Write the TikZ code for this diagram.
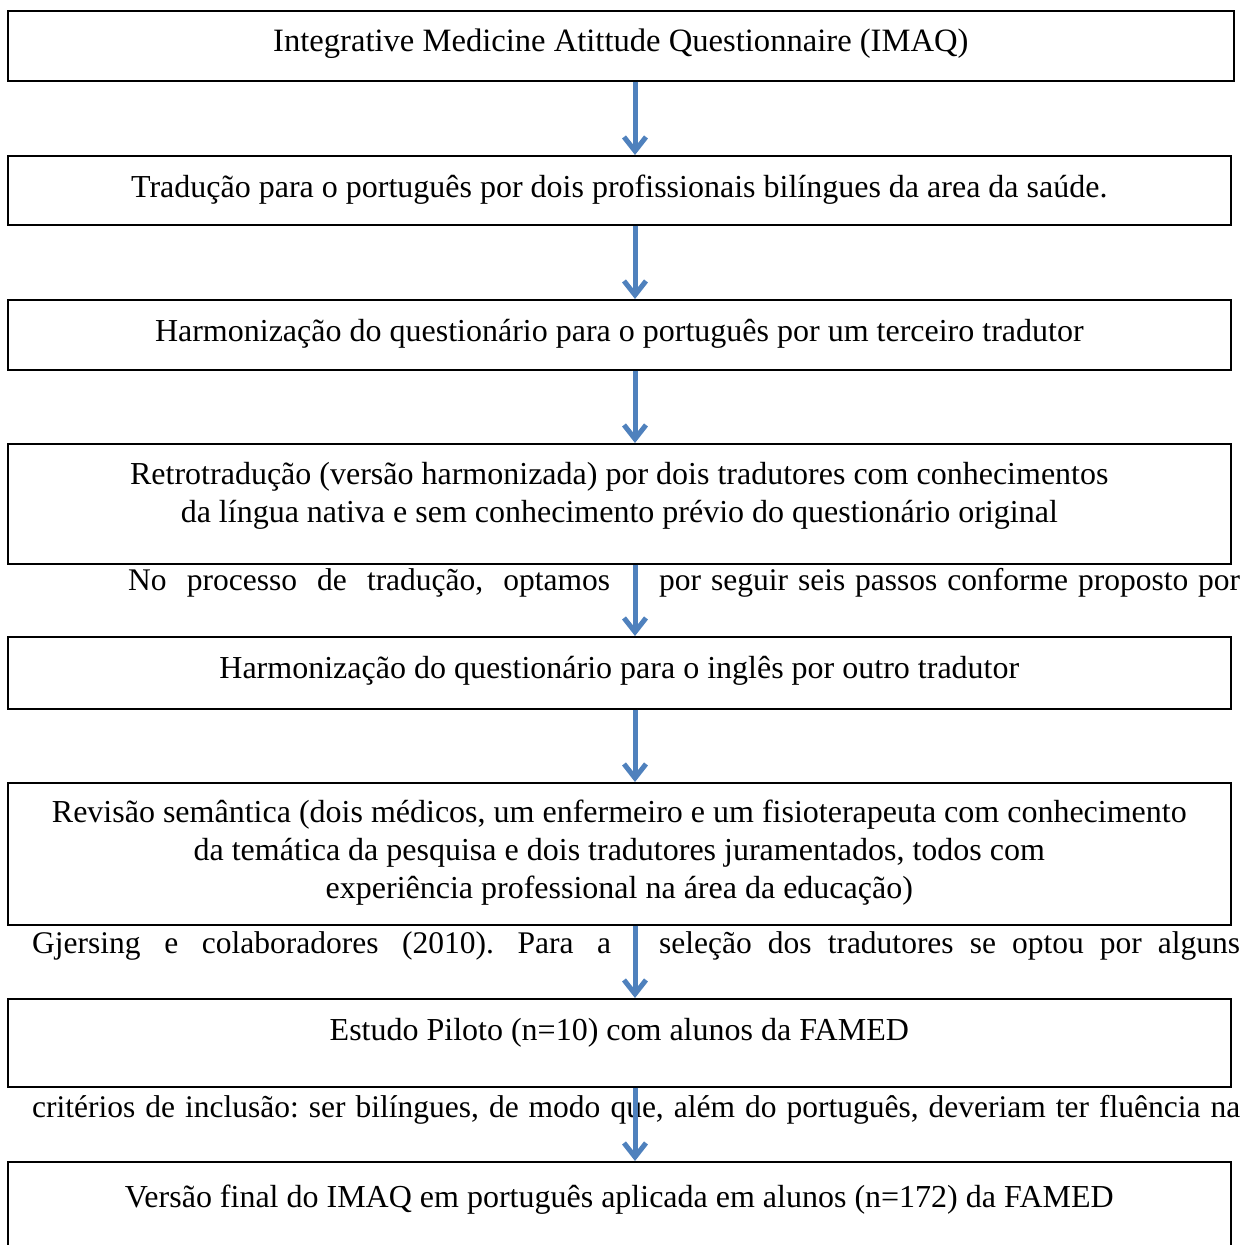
\documentclass[tikz,border=0pt]{standalone}
\usepackage{fontspec}
\setmainfont{Liberation Serif}
\usetikzlibrary{arrows.meta, positioning}
\definecolor{flowBlue}{HTML}{4F81BD}
\tikzset{
  stage/.style={draw=black, line width=1.6pt, anchor=north west, inner sep=0pt, minimum width=1223pt},
  stagetext/.style={font=\fontsize{32}{38}\selectfont, align=center, inner sep=0pt},
  prose/.style={font=\fontsize{31.5}{38}\selectfont\frenchspacing, inner sep=0pt, anchor=west},
  flow/.style={draw=flowBlue, line width=5pt, -{Straight Barb[length=14pt, width=22pt]}},
}
\begin{document}
\begin{tikzpicture}[x=1pt, y=-1pt]
  \useasboundingbox (0,0) rectangle (1256,1245);
  \clip (0,0) rectangle (1256,1245);
  % frames of the steps
  \node[stage, minimum width=1226pt, minimum height=70pt] (imaq) at (7,10) {};
  \node[stage, minimum height=69pt] (trad) at (7,155) {};
  \node[stage, minimum height=70pt] (harmpt) at (7,299) {};
  \node[stage, minimum height=120pt] (retro) at (7,443) {};
  \node[stage, minimum height=72pt] (harmen) at (7,636) {};
  \node[stage, minimum height=142pt] (revis) at (7,782) {};
  \node[stage, minimum height=88pt] (piloto) at (7,998) {};
  \node[stage, minimum height=90pt] (final) at (7,1161) {};
  % texts of the steps
  \node[stagetext, font=\fontsize{32.6}{38}\selectfont, below=19pt of imaq.north] (imaqtxt) {Integrative Medicine Atittude Questionnaire (IMAQ)};
  \node[stagetext, below=20pt of trad.north] (tradtxt) {Tradução para o português por dois profissionais bilíngues da area da saúde.};
  \node[stagetext, below=20pt of harmpt.north] (harmpttxt) {Harmonização do questionário para o português por um terceiro tradutor};
  \node[stagetext, below=19pt of retro.north] (retrotxt) {Retrotradução (versão harmonizada) por dois tradutores com conhecimentos\\
    da língua nativa e sem conhecimento prévio do questionário original};
  \node[stagetext, below=20pt of harmen.north] (harmentxt) {Harmonização do questionário para o inglês por outro tradutor};
  \node[stagetext, below=18pt of revis.north] (revistxt) {Revisão semântica (dois médicos, um enfermeiro e um fisioterapeuta com conhecimento\\
    da temática da pesquisa e dois tradutores juramentados, todos com\\
    experiência professional na área da educação)};
  \node[stagetext, below=20pt of piloto.north] (pilototxt) {Estudo Piloto (n=10) com alunos da FAMED};
  \node[stagetext, below=24pt of final.north] (finaltxt) {Versão final do IMAQ em português aplicada em alunos (n=172) da FAMED};
  % running text of the page behind the chart
  \node[prose] (proseA) at (128,583) {\makebox[482pt][s]{No processo de tradução, optamos}};
  \node[prose] (proseB) at (659,583) {\makebox[581pt][s]{por seguir seis passos conforme proposto por}};
  \node[prose] (proseC) at (32,946) {\makebox[579pt][s]{Gjersing e colaboradores (2010). Para a}};
  \node[prose] (proseD) at (659,946) {\makebox[581pt][s]{seleção dos tradutores se optou por alguns}};
  \node[prose] (proseE) at (32,1110) {\makebox[1208pt][s]{critérios de inclusão: ser bilíngues, de modo que, além do português, deveriam ter fluência na}};
  % arrows
  \coordinate (ax) at (635,0);
  \foreach \a/\b in {imaq/trad, trad/harmpt, harmpt/retro, retro/harmen, harmen/revis, revis/piloto, piloto/final} {
    \draw[flow] (\a.south -| ax) -- (\b.north -| ax);
  }
\end{tikzpicture}
\end{document}
